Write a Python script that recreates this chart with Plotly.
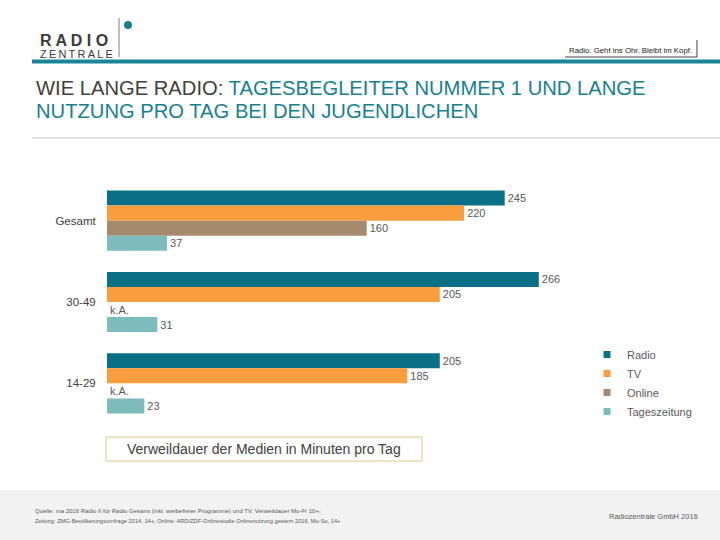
import plotly.graph_objects as go

categories = ["Gesamt", "30-49", "14-29"]
series_names = ["Radio", "TV", "Online", "Tageszeitung"]
radio = [245, 266, 205]
tv = [220, 205, 185]
online = [160, 0, 0]
online_labels = ["160", "k.A.", "k.A."]
zeitung = [37, 31, 23]
colors = ["#0b7086", "#f99d3e", "#a68a6e", "#7cbcbc"]

W, H = 720, 540
L, R, T, B = 107, 126, 180, 116
PW, PH = W - L - R, H - T - B

def px(x):
    return (x - L) / PW

def py(y):
    return (H - B - y) / PH

fig = go.Figure()
vals = [radio, tv, online, zeitung]
for i, name in enumerate(series_names):
    v = vals[i]
    txt = online_labels if name == "Online" else [str(a) for a in v]
    fig.add_trace(go.Bar(
        y=categories, x=v, name=name, orientation="h",
        marker=dict(color=colors[i], line=dict(width=0)),
        text=txt, textposition="outside", cliponaxis=False,
        textfont=dict(size=11, color="#595959", family="Liberation Sans"),
        hoverinfo="skip", showlegend=False, legendgroup=name,
    ))
# legend entries with small square swatches
for i, name in enumerate(series_names):
    fig.add_trace(go.Scatter(
        x=[None], y=[None], mode="markers", name=name, legendgroup=name,
        marker=dict(symbol="square", size=7, color=colors[i]),
        hoverinfo="skip", showlegend=True,
    ))

fig.update_layout(
    width=W, height=H,
    margin=dict(l=L, r=R, t=T, b=B),
    paper_bgcolor="white", plot_bgcolor="white",
    barmode="group", bargap=0.26, bargroupgap=0,
    font=dict(family="Liberation Sans", color="#404040"),
    xaxis=dict(range=[0, 300], visible=False),
    yaxis=dict(categoryorder="array", categoryarray=categories, autorange="reversed",
               showgrid=False, showline=False, zeroline=False,
               ticks="outside", ticklen=8, tickcolor="rgba(0,0,0,0)",
               tickfont=dict(size=11.5, color="#404040")),
    legend=dict(x=px(587), y=py(340), xanchor="left", yanchor="top",
                font=dict(size=11, color="#595959"), itemwidth=30,
                bgcolor="rgba(0,0,0,0)", traceorder="normal"),
    showlegend=True,
)

shapes = []
shapes.append(dict(type="rect", xref="paper", yref="paper", x0=px(32), x1=px(720), y0=py(63.5), y1=py(59.5),
                   fillcolor="#1a8597", line=dict(width=0), layer="above"))
shapes.append(dict(type="line", xref="paper", yref="paper", x0=px(32), x1=px(720), y0=py(138), y1=py(138),
                   line=dict(color="#d9d9d9", width=1.5)))
shapes.append(dict(type="line", xref="paper", yref="paper", x0=px(119), x1=px(119), y0=py(18), y1=py(57),
                   line=dict(color="#7f7f7f", width=1)))
shapes.append(dict(type="circle", xref="paper", yref="paper", x0=px(124), x1=px(132), y0=py(21), y1=py(29),
                   fillcolor="#17808f", line=dict(width=0)))
shapes.append(dict(type="line", xref="paper", yref="paper", x0=px(565), x1=px(697), y0=py(57), y1=py(57),
                   line=dict(color="#404040", width=1)))
shapes.append(dict(type="line", xref="paper", yref="paper", x0=px(697), x1=px(697), y0=py(40), y1=py(57),
                   line=dict(color="#404040", width=1)))
shapes.append(dict(type="rect", xref="paper", yref="paper", x0=px(0), x1=px(720), y0=py(540), y1=py(490),
                   fillcolor="#f2f2f2", line=dict(width=0), layer="below"))
shapes.append(dict(type="rect", xref="paper", yref="paper", x0=px(106), x1=px(422), y0=py(461), y1=py(437),
                   fillcolor="white", line=dict(color="#e3c78c", width=1)))
fig.update_layout(shapes=shapes)

ann = []
def text(x, y, s, size, color="#404040", xanchor="left", family="Liberation Sans", yanchor="middle"):
    ann.append(dict(x=px(x), y=py(y), xref="paper", yref="paper", text=s, showarrow=False,
                    xanchor=xanchor, yanchor=yanchor, align="left",
                    font=dict(size=size, color=color, family=family)))

logo = ("<span style='font-size:16px'><b>R A D I O</b></span><br>"
        "<span style='font-size:11px'>" + "\u2009".join("ZENTRALE") + "</span>")
text(38, 46.5, logo, 9, "#3a3a3a")
text(694, 50, "Radio. Geht ins Ohr. Bleibt im Kopf.", 7.8, "#202020", xanchor="right")
text(34, 88, "WIE LANGE RADIO: <span style='color:#17808f'>TAGESBEGLEITER NUMMER 1 UND LANGE</span>", 20.2, "#404040")
text(34, 111, "<span style='color:#17808f'>NUTZUNG PRO TAG BEI DEN JUGENDLICHEN</span>", 20.2, "#17808f")
text(264, 449, "Verweildauer der Medien in Minuten pro Tag", 14, "#404040", xanchor="center")
text(33, 511, "Quelle: ma 2016 Radio II für Radio Gesamt (inkl. werbefreier Programme) und TV. Verweildauer Mo-Fr 10+;",
     6, "#595959")
text(33, 521, "Zeitung: ZMG-Bevölkerungsumfrage 2014, 14+; Online: ARD/ZDF-Onlinestudie Onlinenutzung gestern 2016, Mo-So, 14+",
     5.7, "#595959")
text(700, 516, "Radiozentrale GmbH 2016", 7.5, "#595959", xanchor="right")
fig.update_layout(annotations=ann)

fig.write_html("out.html", config={"displayModeBar": False},
               post_script="document.body.style.margin='0';")
